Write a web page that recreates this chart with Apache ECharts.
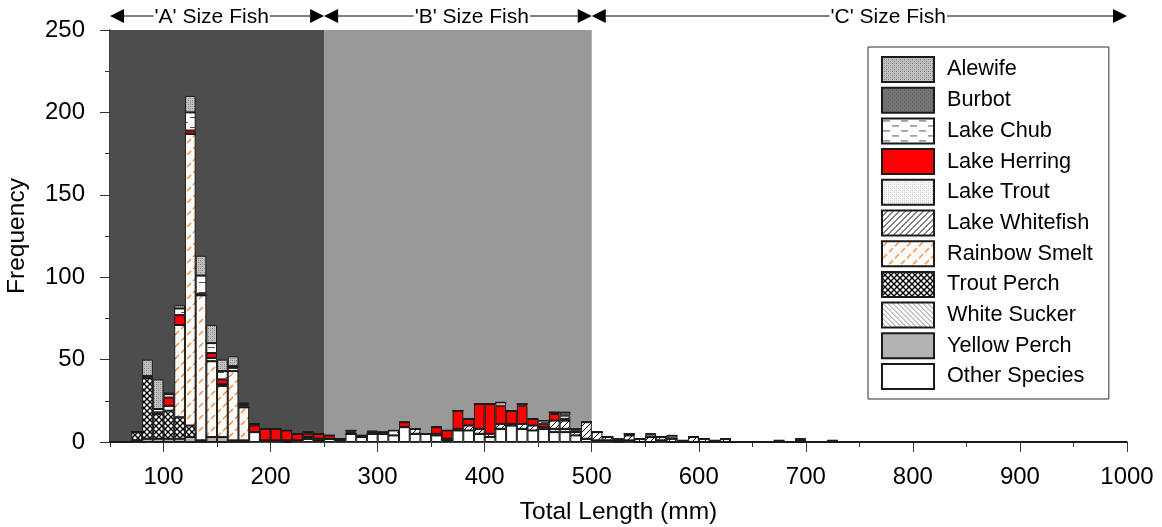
<!DOCTYPE html>
<html>
<head>
<meta charset="utf-8">
<script src="https://cdn.jsdelivr.net/npm/echarts@6/dist/echarts.min.js"></script>
<style>
  html, body { margin: 0; padding: 0; background: #fff; }
  #chart { width: 1162px; height: 527px; }
</style>
</head>
<body>
<div id="chart"></div>
<script>
  // 10 mm length classes that hold fish, lower edge of each class (70 ... 720)
  const binStarts = [
    70, 80, 90, 100, 110, 120, 130, 140, 150, 160,
    170, 180, 190, 200, 210, 220, 230, 240, 250, 260,
    270, 280, 290, 300, 310, 320, 330, 340, 350, 360,
    370, 380, 390, 400, 410, 420, 430, 440, 450, 460,
    470, 480, 490, 500, 510, 520, 530, 540, 550, 560,
    570, 580, 590, 600, 610, 620, 630, 640, 650, 660,
    670, 680, 690, 700, 710, 720
  ];

  // counts per class, one array per species
  const alewife      = [0,10,18,1,2,10,12,11,7,6, 1,0,0,0,0,0,0,0,0,0, 0,0,1];
  const burbot       = [0,0,0,0,0,0,0,0,0,0, 1,0,0,0,0,0,0,0,0,0, 0,0,0,0,0,0,0,0,0,0,
                        0,0,0,0,0,0,0,0,0,0, 2,1,0,0,0,1,0,0,2,0, 2,1,0,0,1,0,0,0,0,0,
                        1,0,1,0,0,1];
  const lakeChub     = [0,1,2,2,4,11,11,6,5,0, 1,1,0,0,0,0,1,0,0,0, 1,1,1,1,3,0,0,0,0,0,
                        0,0,0,0,2,0,1,0,2,1, 2,1];
  const lakeHerring  = [0,0,1,5,6,2,1,3,3,1, 0,4,7,7,6,4,2,3,2,0, 1,0,0,0,0,3,0,0,4,5,
                        11,4,15,18,11,8,11,4,2,4, 1,0,0,0,0,0,1];
  const lakeTrout    = [0,0,0,0,0,0,0,2,0,2];
  const lakeWhitefish= [0,0,0,0,0,0,0,0,1,0, 0,0,0,0,1,0,1,1,0,1, 0,0,0,0,0,0,3,0,1,1,
                        1,3,3,2,3,1,3,3,1,5, 5,2,10,5,2,1,3,2,3,2, 2,0,3,2,0,2,0,0,0,0,
                        0,0,1];
  const rainbowSmelt = [0,0,0,3,56,177,88,46,31,42, 20];
  const troutPerch   = [5,37,15,17,13,7];
  const whiteSucker  = [0,0,0,0,0,0,0,0,0,0, 0,0,0,0,0,0,0,0,0,0, 0,0,0,0,0,0,0,0,0,0,
                        0,0,0,0,0,0,0,0,0,2, 2];
  const yellowPerch  = [1,2,2,2,2,3,1,3,3,1, 1];
  const otherSpecies = [0,0,0,0,0,0,0,0,0,0, 0,6,1,1,0,1,2,1,2,1, 5,3,5,5,4,9,5,5,4,1,
                        7,7,5,3,8,10,8,7,8,6, 6,4,2,1,1,0,1,0,0,1];

  const legendOrder = ['Alewife', 'Burbot', 'Lake Chub', 'Lake Herring', 'Lake Trout',
    'Lake Whitefish', 'Rainbow Smelt', 'Trout Perch', 'White Sucker', 'Yellow Perch', 'Other Species'];

  const majorTicks = [100, 200, 300, 400, 500, 600, 700, 800, 900, 1000];
  const minorTicks = [50, 150, 250, 350, 450, 550, 650, 750, 850, 950];

  const FONT = 'Liberation Sans, Arial, sans-serif';

  // one category band per 10 mm from 50 to 990, so bands line up with the 50-1000 value axis
  const classes = [];
  for (let c = 50; c < 1000; c += 10) classes.push(c);

  // hatch / stipple fills
  function tile(w, h, bg, draw) {
    const c = document.createElement('canvas');
    c.width = w; c.height = h;
    const g = c.getContext('2d');
    g.fillStyle = bg;
    g.fillRect(0, 0, w, h);
    if (draw) draw(g, w, h);
    return { image: c, repeat: 'repeat' };
  }
  function diag(g, w, h, color, lw, back) {
    g.strokeStyle = color; g.lineWidth = lw;
    g.beginPath();
    for (let o = -w; o <= w; o += w) {
      if (back) { g.moveTo(o, 0); g.lineTo(o + w, h); }
      else { g.moveTo(o, h); g.lineTo(o + w, 0); }
    }
    g.stroke();
  }

  const fills = {
    'Alewife': tile(4, 4, '#c2c2c2', g => {
      g.fillStyle = '#7c7c7c'; g.fillRect(0, 0, 1, 1); g.fillRect(2, 2, 1, 1);
      g.fillStyle = '#9c9c9c'; g.fillRect(2, 0, 1, 1); g.fillRect(0, 2, 1, 1);
    }),
    'Burbot': tile(4, 4, '#747474', g => {
      g.fillStyle = '#5c5c5c'; g.fillRect(0, 0, 1, 1); g.fillRect(2, 2, 1, 1);
    }),
    'Lake Chub': tile(18, 10, '#ffffff', g => {
      g.fillStyle = '#555'; g.fillRect(1, 2, 7, 1); g.fillRect(10, 7, 7, 1);
    }),
    'Lake Herring': '#ff0000',
    'Lake Trout': tile(4, 4, '#ffffff', g => {
      g.fillStyle = '#b5b5b5'; g.fillRect(0, 0, 1, 1); g.fillRect(2, 2, 1, 1);
      g.fillStyle = '#d5d5d5'; g.fillRect(2, 0, 1, 1); g.fillRect(0, 2, 1, 1);
    }),
    'Lake Whitefish': tile(6, 6, '#ffffff', (g, w, h) => diag(g, w, h, '#000', 1, false)),
    'Rainbow Smelt': tile(12, 12, '#ffffff', g => {
      g.strokeStyle = '#ff7f27'; g.lineWidth = 1.3;
      g.beginPath();
      g.moveTo(1, 5); g.lineTo(5, 1);
      g.moveTo(7, 11); g.lineTo(11, 7);
      g.stroke();
    }),
    'Trout Perch': tile(6, 6, '#ffffff', (g, w, h) => {
      diag(g, w, h, '#000', 1.4, false);
      diag(g, w, h, '#000', 1.4, true);
    }),
    'White Sucker': tile(5, 5, '#ffffff', (g, w, h) => diag(g, w, h, '#8a8a8a', 1, true)),
    'Yellow Perch': '#b3b3b3',
    'Other Species': '#ffffff'
  };

  // bottom of the stack first
  const stackOrder = [
    ['Other Species', otherSpecies],
    ['Yellow Perch', yellowPerch],
    ['White Sucker', whiteSucker],
    ['Trout Perch', troutPerch],
    ['Rainbow Smelt', rainbowSmelt],
    ['Lake Whitefish', lakeWhitefish],
    ['Lake Trout', lakeTrout],
    ['Lake Herring', lakeHerring],
    ['Lake Chub', lakeChub],
    ['Burbot', burbot],
    ['Alewife', alewife]
  ];

  const barSeries = stackOrder.map(([name, vals]) => ({
    name: name,
    type: 'bar',
    stack: 'fish',
    xAxisIndex: 0,
    barWidth: '100%',
    barCategoryGap: 0,
    z: 2,
    data: classes.map(c => {
      const i = binStarts.indexOf(c);
      return i >= 0 ? (vals[i] || 0) : 0;
    }),
    itemStyle: { color: fills[name], borderColor: '#1a1a1a', borderWidth: 1 },
    emphasis: { disabled: true }
  }));

  // shaded size-class zones
  const zoneSeries = {
    type: 'line',
    xAxisIndex: 1,
    data: [],
    z: 0,
    silent: true,
    markArea: {
      silent: true,
      data: [
        [{ xAxis: 50, itemStyle: { color: '#4d4d4d', opacity: 1 } }, { xAxis: 250 }],
        [{ xAxis: 250, itemStyle: { color: '#999999', opacity: 1 } }, { xAxis: 500 }]
      ]
    }
  };

  const chart = echarts.init(document.getElementById('chart'));
  chart.setOption({
    animation: false,
    backgroundColor: '#fff',
    textStyle: { fontFamily: FONT },
    grid: { left: 110, right: 35, top: 30, bottom: 85, containLabel: false, outerBoundsMode: 'none' },
    legend: {
      data: legendOrder,
      orient: 'vertical',
      left: 868,
      top: 47,
      padding: [9, 16, 9, 13],
      itemWidth: 52,
      itemHeight: 25,
      itemGap: 3.7,
      icon: 'rect',
      borderColor: '#333',
      borderWidth: 1,
      backgroundColor: '#fff',
      selectedMode: false,
      textStyle: { fontSize: 21.7, lineHeight: 24, color: '#000', fontFamily: FONT, padding: [0, 0, 0, 8] }
    },
    xAxis: [
      {
        type: 'category', data: classes, boundaryGap: true,
        axisLine: { show: false }, axisTick: { show: false }, axisLabel: { show: false },
        splitLine: { show: false }
      },
      {
        type: 'value', min: 50, max: 1000, position: 'bottom',
        name: 'Total Length (mm)', nameLocation: 'middle', nameGap: 58,
        nameTextStyle: { fontSize: 24.5, color: '#000', fontFamily: FONT },
        axisLine: { lineStyle: { color: '#000', width: 1.5 } },
        axisTick: { customValues: majorTicks, length: 10, lineStyle: { color: '#333' } },
        axisLabel: {
          customValues: majorTicks, fontSize: 24, color: '#000', margin: 23, fontFamily: FONT,
          formatter: v => String(v)
        },
        splitLine: { show: false }
      },
      {
        type: 'value', min: 50, max: 1000, position: 'bottom',
        axisLine: { show: false },
        axisTick: { customValues: minorTicks, length: 5, lineStyle: { color: '#333' } },
        axisLabel: { show: false },
        splitLine: { show: false }
      }
    ],
    yAxis: {
      type: 'value', min: 0, max: 250, interval: 50,
      name: 'Frequency', nameLocation: 'middle', nameGap: 80,
      nameTextStyle: { fontSize: 24.5, color: '#000', fontFamily: FONT },
      axisLine: { show: true, lineStyle: { color: '#000', width: 1.5 } },
      axisTick: { show: true, length: 10, lineStyle: { color: '#333' } },
      minorTick: { show: true, splitNumber: 2, length: 5, lineStyle: { color: '#333' } },
      axisLabel: { fontSize: 24, color: '#000', margin: 25, fontFamily: FONT },
      splitLine: { show: false }
    },
    series: [zoneSeries].concat(barSeries)
  });

  // size-class arrows along the top
  const zones = [
    [50, 250, 145, "'A' Size Fish"],
    [250, 500, 388, "'B' Size Fish"],
    [500, 1000, 777, "'C' Size Fish"]
  ];
  const px = v => chart.convertToPixel({ xAxisIndex: 1 }, v);
  const ay = 16, aw = 14, ah = 7;
  const graphics = [];
  zones.forEach(([a, b, mid, label]) => {
    const x0 = px(a), x1 = px(b);
    graphics.push({
      type: 'line', silent: true,
      shape: { x1: x0 + aw, y1: ay, x2: x1 - aw, y2: ay },
      style: { stroke: '#000', lineWidth: 1 }
    });
    graphics.push({
      type: 'polygon', silent: true,
      shape: { points: [[x0, ay], [x0 + aw, ay - ah], [x0 + aw, ay + ah]] },
      style: { fill: '#000' }
    });
    graphics.push({
      type: 'polygon', silent: true,
      shape: { points: [[x1, ay], [x1 - aw, ay - ah], [x1 - aw, ay + ah]] },
      style: { fill: '#000' }
    });
    graphics.push({
      type: 'text', silent: true, z: 10,
      x: px(mid), y: ay + 1,
      style: {
        text: label, fontSize: 21, fontFamily: FONT, fill: '#000',
        align: 'center', verticalAlign: 'middle',
        backgroundColor: '#fff', padding: [0, 1]
      }
    });
  });
  chart.setOption({ graphic: graphics });
</script>
</body>
</html>
